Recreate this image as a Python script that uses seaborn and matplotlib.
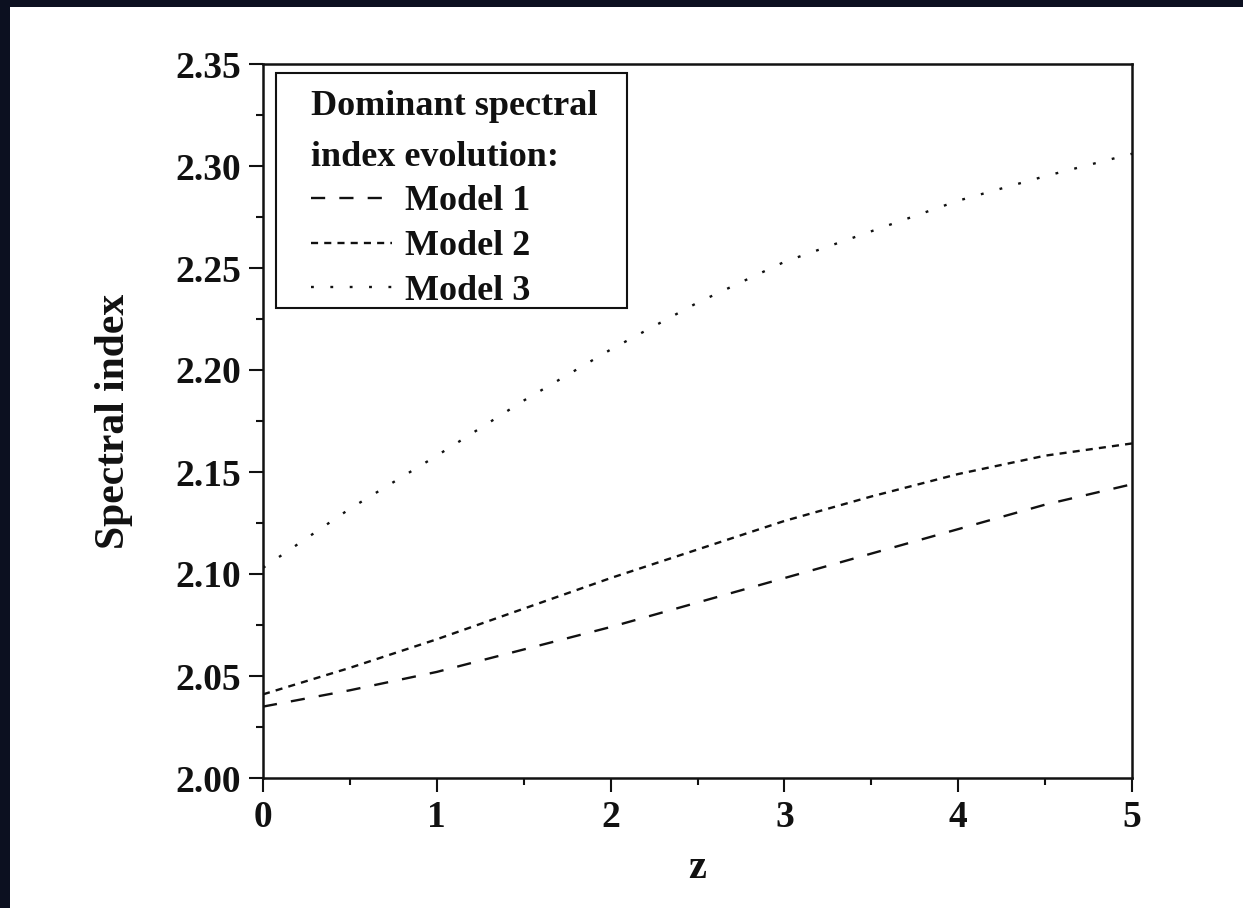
import numpy as np
import pandas as pd
import matplotlib
matplotlib.use("Agg")
import matplotlib.pyplot as plt
import seaborn as sns
from matplotlib.patches import Rectangle
from matplotlib.ticker import MultipleLocator

# ---- data ----
z_vals = [0.0, 0.5, 1.0, 1.5, 2.0, 2.5, 3.0, 3.5, 4.0, 4.5, 5.0]
model1 = [2.035, 2.043, 2.052, 2.063, 2.074, 2.086, 2.098, 2.110, 2.122, 2.134, 2.144]
model2 = [2.041, 2.054, 2.068, 2.083, 2.098, 2.112, 2.126, 2.138, 2.149, 2.158, 2.164]
model3 = [2.103, 2.132, 2.158, 2.185, 2.210, 2.233, 2.253, 2.268, 2.283, 2.295, 2.306]
labels = ["Model 1", "Model 2", "Model 3"]
legend_title = "Dominant spectral\nindex evolution:"
x_label = "z"
y_label = "Spectral index"
x_ticks = [0, 1, 2, 3, 4, 5]
y_ticks = [2.00, 2.05, 2.10, 2.15, 2.20, 2.25, 2.30, 2.35]

sns.set_style("ticks")
plt.rcParams["font.family"] = ["Liberation Serif", "DejaVu Serif"]
plt.rcParams["font.weight"] = "bold"

FS = 27
LFS = 26
W_AX = 1132 - 263
H_AX = 778 - 64

fig = plt.figure(figsize=(12.43, 9.08), dpi=100, facecolor="white")
ax = fig.add_axes([263 / 1243, 1 - 778 / 908, W_AX / 1243, H_AX / 908])

lw = 1.7
styles = [(0, (6.0, 6.0)), (0, (3.0, 2.6)), (0, (1.2, 7.0))]
for vals, lab, ls in zip([model1, model2, model3], labels, styles):
    df = pd.DataFrame({"z": z_vals, "v": vals})
    sns.lineplot(data=df, x="z", y="v", ax=ax, color="#111111", lw=lw,
                 linestyle=ls, label=lab)

ax.set_xlim(0, 5)
ax.set_ylim(2.00, 2.35)
ax.set_xticks(x_ticks)
ax.set_xticklabels([str(t) for t in x_ticks])
ax.set_yticks(y_ticks)
ax.set_yticklabels([f"{t:.2f}" for t in y_ticks])
ax.xaxis.set_minor_locator(MultipleLocator(0.5))
ax.yaxis.set_minor_locator(MultipleLocator(0.025))

ax.tick_params(axis="both", which="major", length=10, width=1.5, direction="out",
               labelsize=FS, color="#111111", labelcolor="#111111")
ax.tick_params(axis="x", which="major", pad=6)
ax.tick_params(axis="y", which="major", pad=6)
ax.tick_params(axis="both", which="minor", length=5, width=1.5, direction="out",
               color="#111111")
for lbl in ax.get_xticklabels() + ax.get_yticklabels():
    lbl.set_fontweight("bold")

for sp in ax.spines.values():
    sp.set_visible(True)
    sp.set_linewidth(1.8)
    sp.set_color("#111111")

ax.set_xlabel(x_label, fontsize=FS + 2, fontweight="bold", labelpad=11, color="#111111")
ax.set_ylabel(y_label, fontsize=FS + 3, fontweight="bold", labelpad=30, color="#111111")

# legend box frame (drawn separately so its padding matches the original)
ax.add_patch(Rectangle(((276 - 263) / W_AX, (778 - 308) / H_AX),
                       (627 - 276) / W_AX, (308 - 73) / H_AX,
                       transform=ax.transAxes, facecolor="white",
                       edgecolor="#111111", lw=1.5, zorder=4))

leg = ax.legend(title=legend_title, loc="upper left",
                bbox_to_anchor=((311 - 263) / W_AX, (778 - 90) / H_AX),
                borderaxespad=0, frameon=False,
                prop={"size": LFS, "weight": "bold"},
                title_fontproperties={"size": LFS, "weight": "bold"},
                alignment="left", handlelength=2.25, handletextpad=0.35,
                labelspacing=0.32, borderpad=0.0)
leg.set_zorder(5)
leg.get_title().set_linespacing(1.7)
for t in leg.get_texts():
    t.set_color("#111111")
leg.get_title().set_color("#111111")

# dark border of the original screenshot
fig.patches.append(Rectangle((0, 0), 10 / 1243, 1, transform=fig.transFigure,
                             facecolor="#0c1020", edgecolor="none", zorder=-1))
fig.patches.append(Rectangle((0, 1 - 7 / 908), 1, 7 / 908, transform=fig.transFigure,
                             facecolor="#0c1020", edgecolor="none", zorder=-1))

fig.savefig("out.png", dpi=100, facecolor="white")
